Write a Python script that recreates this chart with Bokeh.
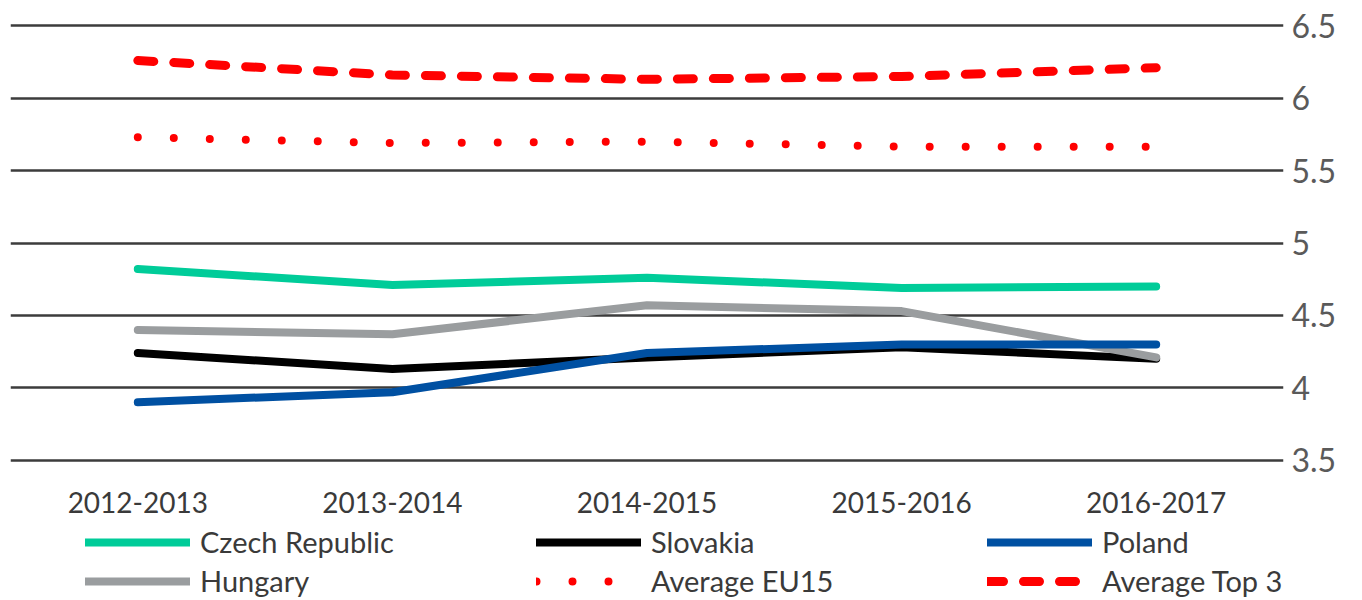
from bokeh.plotting import figure
from bokeh.layouts import column
from bokeh.models import Range1d, FactorRange, Legend, LegendItem, NumeralTickFormatter, FixedTicker
from bokeh.embed import file_html
from bokeh.resources import INLINE

years = ["2012-2013", "2013-2014", "2014-2015", "2015-2016", "2016-2017"]
czech = [4.82, 4.71, 4.76, 4.69, 4.70]
slovakia = [4.24, 4.13, 4.21, 4.28, 4.20]
poland = [3.90, 3.97, 4.24, 4.30, 4.30]
hungary = [4.40, 4.37, 4.57, 4.53, 4.21]
avg_eu15 = [5.73, 5.69, 5.70, 5.665, 5.665]
avg_top3 = [6.26, 6.16, 6.13, 6.15, 6.21]
y_ticks = [3.5, 4, 4.5, 5, 5.5, 6, 6.5]

FONT = "Lato"

styles = {
    "Czech Republic": dict(line_color="#00cc99", line_width=8, line_cap="round", line_join="round"),
    "Slovakia": dict(line_color="#000000", line_width=8, line_cap="round", line_join="round"),
    "Hungary": dict(line_color="#9a9d9f", line_width=8, line_cap="round", line_join="round"),
    "Poland": dict(line_color="#0050a2", line_width=8, line_cap="round", line_join="round"),
    "Average EU15": dict(line_color="#ff0000", line_width=8, line_cap="round", line_dash="0 36"),
    "Average Top 3": dict(line_color="#ff0000", line_width=9, line_cap="round", line_dash="16 20"),
}
series = {
    "Czech Republic": czech, "Slovakia": slovakia, "Hungary": hungary,
    "Poland": poland, "Average EU15": avg_eu15, "Average Top 3": avg_top3,
}

p = figure(width=1362, height=520, x_range=FactorRange(*years),
           y_range=Range1d(3.45, 6.55), y_axis_location="right",
           output_backend="svg", toolbar_location=None,
           min_border_left=10, min_border_right=79, min_border_top=18, min_border_bottom=53)
p.outline_line_color = None
p.xgrid.grid_line_color = None
p.ygrid.grid_line_color = "#3c3c3c"
p.ygrid.grid_line_width = 2.5
p.ygrid.ticker = FixedTicker(ticks=y_ticks)

ya = p.yaxis[0]
ya.ticker = FixedTicker(ticks=y_ticks)
ya.formatter = NumeralTickFormatter(format="0.[0]")
ya.axis_line_color = None
ya.major_tick_line_color = None
ya.minor_tick_line_color = None
ya.major_label_text_font = FONT
ya.major_label_text_font_size = "32px"
ya.major_label_text_color = "#5a5a5a"
ya.major_label_standoff = 2

xa = p.xaxis[0]
xa.axis_line_color = None
xa.major_tick_line_color = None
xa.minor_tick_line_color = None
xa.major_label_text_font = FONT
xa.major_label_text_font_size = "28px"
xa.major_label_text_color = "#3a3a3a"
xa.major_label_standoff = 18

for name in ["Czech Republic", "Slovakia", "Hungary", "Poland", "Average EU15", "Average Top 3"]:
    p.line(years, series[name], **styles[name])

# legend strip: hidden copies of the series supply the legend glyphs
p2 = figure(width=1362, height=80, x_range=FactorRange(*years), y_range=Range1d(0, 1),
            x_axis_type=None, y_axis_type=None, output_backend="svg", toolbar_location=None,
            min_border_left=0, min_border_right=0, min_border_top=0, min_border_bottom=0)
p2.outline_line_color = None
p2.xgrid.visible = False
p2.ygrid.visible = False
order = ["Czech Republic", "Hungary", "Slovakia", "Average EU15", "Poland", "Average Top 3"]
items = []
for name in order:
    r = p2.line(years, series[name], visible=False, **styles[name])
    items.append(LegendItem(label=name, renderers=[r]))

legend = Legend(items=items, nrows=2, location=(75, 2))
legend.border_line_color = None
legend.background_fill_alpha = 0
legend.inactive_fill_alpha = 0
legend.label_text_font = FONT
legend.label_text_font_size = "29px"
legend.label_text_color = "#3a3a3a"
legend.glyph_width = 105
legend.glyph_height = 30
legend.label_standoff = 10
legend.label_width = 332
legend.spacing = 4
legend.margin = 0
legend.padding = 0
p2.add_layout(legend, "center")

layout = column(p, p2, spacing=0)
open("out.html", "w").write(file_html(layout, INLINE))
